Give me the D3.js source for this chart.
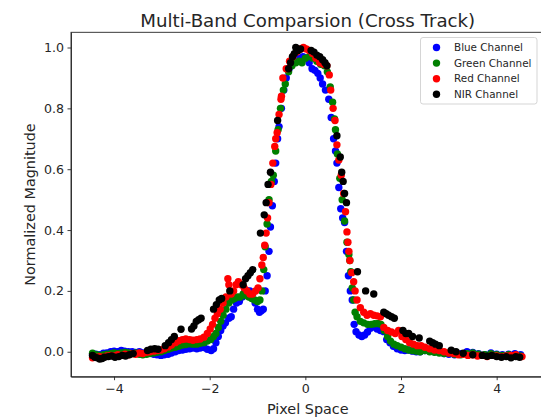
<!DOCTYPE html>
<html>
<head>
<meta charset="utf-8">
<script src="https://cdn.jsdelivr.net/npm/d3@7"></script>
<style>
  body { margin: 0; background: #fff; }
  svg { display: block; font-family: "DejaVu Sans", sans-serif; }
</style>
</head>
<body>
<svg width="541" height="418"></svg>
<script>
// data: [pixel space, normalized magnitude]
var blueChannel = [
  [-4.45,-0.01],[-4.38,-0.008],[-4.3,-0.01],[-4.22,-0.005],[-4.15,-0.004],[-4.07,0.0],[-4.0,0.002],[-3.92,0.0],
  [-3.85,0.004],[-3.78,0.002],[-3.7,0.0],[-3.62,0.0],[-3.55,-0.002],[-3.47,0.0],[-3.4,-0.004],[-3.32,-0.006],
  [-3.25,-0.004],[-3.17,-0.008],[-3.1,-0.01],[-3.02,-0.012],[-2.95,-0.01],[-2.87,-0.008],[-2.8,-0.004],[-2.72,0.0],
  [-2.65,0.004],[-2.57,0.006],[-2.5,0.008],[-2.42,0.01],[-2.35,0.012],[-2.27,0.01],[-2.2,0.012],[-2.12,0.014],
  [-2.05,0.008],[-1.97,0.004],[-1.92,0.01],[-1.87,0.03],[-1.82,0.05],[-1.77,0.07],[-1.72,0.085],[-1.67,0.095],
  [-1.6,0.11],[-1.55,0.115],[-1.5,0.14],[-1.44,0.16],[-1.38,0.165],[-1.32,0.18],[-1.27,0.195],[-1.22,0.2],
  [-1.16,0.2],[-1.1,0.19],[-1.05,0.16],[-1.0,0.14],[-0.96,0.13],[-0.92,0.135],[-0.88,0.14],[-0.84,0.2],
  [-0.8,0.25],[-0.76,0.33],[-0.73,0.41],[-0.69,0.48],[-0.65,0.56],[-0.62,0.62],[-0.58,0.7],[-0.55,0.74],
  [-0.5,0.8],[-0.45,0.86],[-0.4,0.9],[-0.34,0.93],[-0.27,0.95],[-0.2,0.955],[-0.12,0.965],[-0.05,0.97],
  [0.02,0.965],[0.08,0.95],[0.14,0.93],[0.2,0.925],[0.26,0.915],[0.31,0.9],[0.36,0.88],[0.42,0.86],
  [0.49,0.83],[0.54,0.77],[0.59,0.7],[0.63,0.66],[0.66,0.62],[0.7,0.54],[0.74,0.47],[0.78,0.44],
  [0.82,0.425],[0.86,0.33],[0.9,0.25],[0.94,0.2],[0.98,0.17],[1.02,0.09],[1.06,0.066],[1.12,0.055],
  [1.18,0.05],[1.24,0.055],[1.3,0.065],[1.36,0.077],[1.43,0.082],[1.5,0.075],[1.57,0.07],[1.64,0.066],
  [1.7,0.04],[1.77,0.03],[1.84,0.018],[1.92,0.01],[2.0,0.006],[2.08,0.004],[2.16,0.006],[2.24,0.002],
  [2.32,0.0],[2.4,0.0],[2.5,0.004],[2.6,0.002],[2.7,0.0],[2.8,-0.002],[2.9,-0.006],[3.0,-0.008],
  [3.12,-0.01],[3.25,-0.006],[3.38,0.0],[3.5,-0.002],[3.62,-0.006],[3.75,-0.01],[3.88,-0.004],[4.0,-0.008],
  [4.12,-0.01],[4.25,-0.008],[4.38,-0.006],[4.5,-0.01]
];

var greenChannel = [
  [-4.45,-0.005],[-4.37,-0.01],[-4.3,-0.012],[-4.22,-0.01],[-4.15,-0.008],[-4.07,-0.006],[-4.0,-0.004],[-3.92,-0.006],
  [-3.85,-0.004],[-3.77,-0.002],[-3.7,-0.004],[-3.62,-0.006],[-3.55,-0.004],[-3.47,-0.008],[-3.4,-0.01],[-3.32,-0.008],
  [-3.25,-0.006],[-3.17,-0.004],[-3.1,-0.002],[-3.02,0.0],[-2.95,0.004],[-2.87,0.008],[-2.8,0.012],[-2.72,0.015],
  [-2.65,0.018],[-2.57,0.022],[-2.5,0.024],[-2.42,0.026],[-2.35,0.025],[-2.27,0.025],[-2.2,0.028],[-2.12,0.03],
  [-2.05,0.035],[-1.98,0.04],[-1.92,0.05],[-1.87,0.06],[-1.82,0.08],[-1.77,0.1],[-1.72,0.12],[-1.66,0.14],
  [-1.6,0.16],[-1.54,0.17],[-1.48,0.175],[-1.42,0.18],[-1.36,0.18],[-1.3,0.19],[-1.24,0.185],[-1.18,0.18],
  [-1.12,0.175],[-1.06,0.17],[-1.0,0.165],[-0.95,0.17],[-0.91,0.2],[-0.87,0.27],[-0.84,0.345],[-0.8,0.42],
  [-0.76,0.5],[-0.71,0.56],[-0.67,0.58],[-0.62,0.66],[-0.57,0.73],[-0.52,0.8],[-0.46,0.86],[-0.42,0.88],
  [-0.35,0.92],[-0.28,0.94],[-0.2,0.95],[-0.13,0.955],[-0.07,0.95],[0.0,0.965],[0.08,0.97],[0.16,0.965],
  [0.24,0.955],[0.32,0.945],[0.4,0.94],[0.46,0.92],[0.52,0.87],[0.57,0.82],[0.61,0.765],[0.63,0.73],
  [0.67,0.65],[0.72,0.57],[0.77,0.5],[0.82,0.43],[0.87,0.36],[0.91,0.32],[0.93,0.3],[0.95,0.263],
  [0.98,0.21],[1.01,0.17],[1.04,0.13],[1.08,0.115],[1.15,0.1],[1.22,0.095],[1.3,0.09],[1.38,0.09],
  [1.45,0.092],[1.52,0.093],[1.58,0.09],[1.65,0.07],[1.72,0.05],[1.78,0.035],[1.85,0.025],[1.92,0.02],
  [2.0,0.015],[2.08,0.01],[2.16,0.006],[2.24,0.004],[2.32,0.002],[2.4,0.0],[2.5,0.004],[2.6,0.0],
  [2.7,-0.002],[2.8,-0.004],[2.9,-0.006],[3.0,-0.004],[3.12,-0.008],[3.25,-0.01],[3.38,-0.006],[3.5,-0.004],
  [3.62,-0.008],[3.75,-0.01],[3.88,-0.006],[4.0,-0.01],[4.12,-0.012],[4.25,-0.01],[4.38,-0.012],[4.5,-0.014]
];

var redChannel = [
  [-4.45,-0.02],[-4.38,-0.018],[-4.3,-0.016],[-4.22,-0.018],[-4.15,-0.014],[-4.07,-0.012],[-4.0,-0.014],[-3.92,-0.01],
  [-3.85,-0.012],[-3.77,-0.008],[-3.7,-0.01],[-3.62,-0.006],[-3.55,-0.008],[-3.47,-0.004],[-3.4,-0.006],[-3.32,-0.002],
  [-3.25,0.0],[-3.17,0.002],[-3.1,0.004],[-3.02,0.006],[-2.95,0.01],[-2.87,0.016],[-2.8,0.022],[-2.72,0.03],
  [-2.65,0.036],[-2.57,0.04],[-2.5,0.042],[-2.42,0.04],[-2.35,0.038],[-2.27,0.04],[-2.2,0.042],[-2.12,0.048],
  [-2.05,0.06],[-1.99,0.075],[-1.94,0.09],[-1.89,0.11],[-1.84,0.125],[-1.78,0.14],[-1.72,0.16],[-1.66,0.18],
  [-1.62,0.24],[-1.6,0.22],[-1.55,0.19],[-1.5,0.2],[-1.45,0.22],[-1.4,0.23],[-1.34,0.22],[-1.28,0.21],
  [-1.22,0.2],[-1.16,0.19],[-1.1,0.19],[-1.04,0.2],[-0.99,0.21],[-0.95,0.24],[-0.91,0.285],[-0.88,0.31],
  [-0.85,0.35],[-0.82,0.39],[-0.79,0.44],[-0.76,0.49],[-0.72,0.55],[-0.68,0.62],[-0.64,0.675],[-0.62,0.7],
  [-0.59,0.72],[-0.55,0.78],[-0.51,0.83],[-0.5,0.84],[-0.47,0.9],[-0.4,0.93],[-0.33,0.955],[-0.26,0.97],
  [-0.18,0.985],[-0.1,0.995],[-0.04,1.0],[0.02,0.995],[0.08,0.99],[0.15,0.98],[0.22,0.965],[0.3,0.95],
  [0.38,0.945],[0.45,0.94],[0.5,0.91],[0.53,0.86],[0.58,0.8],[0.62,0.76],[0.66,0.68],[0.7,0.63],
  [0.75,0.58],[0.8,0.52],[0.84,0.46],[0.87,0.394],[0.89,0.36],[0.91,0.33],[0.93,0.3],[0.97,0.26],
  [1.01,0.23],[1.04,0.2],[1.08,0.17],[1.15,0.145],[1.22,0.13],[1.29,0.12],[1.36,0.125],[1.43,0.12],
  [1.5,0.118],[1.57,0.115],[1.64,0.08],[1.72,0.07],[1.8,0.065],[1.88,0.06],[1.95,0.07],[2.02,0.05],
  [2.1,0.04],[2.18,0.03],[2.26,0.025],[2.34,0.02],[2.42,0.02],[2.5,0.015],[2.6,0.01],[2.7,0.006],
  [2.8,0.004],[2.9,0.0],[3.0,-0.004],[3.1,-0.006],[3.2,-0.01],[3.3,-0.008],[3.4,-0.012],[3.5,-0.01],
  [3.6,-0.014],[3.7,-0.012],[3.8,-0.016],[3.9,-0.012],[4.0,-0.014],[4.1,-0.016],[4.2,-0.014],[4.3,-0.012],
  [4.4,-0.01],[4.53,-0.016]
];

var nirChannel = [
  [-4.45,-0.012],[-4.4,-0.018],[-4.35,-0.02],[-4.3,-0.024],[-4.25,-0.022],[-4.2,-0.018],[-4.12,-0.016],[-4.05,-0.014],
  [-3.98,-0.018],[-3.9,-0.016],[-3.83,-0.012],[-3.76,-0.014],[-3.68,-0.01],[-3.6,-0.006],[-3.3,0.004],[-3.23,0.008],
  [-3.15,0.01],[-3.08,0.008],[-2.93,0.02],[-2.86,0.03],[-2.8,0.04],[-2.74,0.05],[-2.6,0.074],[-2.38,0.075],
  [-2.33,0.085],[-2.28,0.1],[-2.23,0.105],[-2.18,0.11],[-1.92,0.14],[-1.86,0.155],[-1.8,0.17],[-1.75,0.175],
  [-1.58,0.2],[-1.3,0.22],[-1.25,0.24],[-1.2,0.25],[-1.15,0.26],[-1.1,0.27],[-0.94,0.39],[-0.86,0.45],
  [-0.82,0.49],[-0.78,0.55],[-0.73,0.59],[-0.58,0.76],[-0.35,0.93],[-0.31,0.95],[-0.27,0.97],[-0.23,0.98],
  [-0.2,1.0],[-0.15,0.99],[-0.1,0.995],[0.12,0.99],[0.18,0.985],[0.24,0.975],[0.3,0.97],[0.36,0.96],
  [0.41,0.95],[0.45,0.94],[0.66,0.71],[0.73,0.64],[0.76,0.59],[0.79,0.56],[0.82,0.52],[0.86,0.49],
  [1.09,0.263],[1.26,0.2],[1.43,0.19],[1.64,0.13],[1.69,0.125],[1.74,0.12],[1.8,0.115],[1.86,0.11],
  [2.04,0.07],[2.1,0.06],[2.16,0.06],[2.24,0.05],[2.38,0.045],[2.6,0.035],[2.66,0.03],[2.72,0.025],
  [2.8,0.02],[3.05,0.005],[3.15,0.0],[3.3,-0.005],[3.5,-0.01],[3.7,-0.012],[3.8,-0.015],[3.9,-0.012],
  [4.0,-0.016],[4.1,-0.018],[4.2,-0.016],[4.3,-0.02],[4.4,-0.016],[4.48,-0.018]
];

var seriesNames = ["Blue Channel", "Green Channel", "Red Channel", "NIR Channel"];
var seriesColors = ["blue", "green", "red", "black"];
var xTicks = [-4, -2, 0, 2, 4];
var yTicks = [0.0, 0.2, 0.4, 0.6, 0.8, 1.0];

var series = [blueChannel, greenChannel, redChannel, nirChannel];

var svg = d3.select("svg");
// plot box in pixels (right edge falls just outside the picture)
var box = { left: 71, right: 544.5, top: 32.3, bottom: 376.7 };
var textColor = "#262626";

var x = d3.scaleLinear().domain([-4.9, 5.0]).range([box.left, box.right]);
var y = d3.scaleLinear().domain([-0.082, 1.05]).range([box.bottom, box.top]);

// points, drawn in series order so NIR ends up on top
series.forEach(function (data, i) {
  svg.append("g")
    .selectAll("circle")
    .data(data)
    .enter().append("circle")
    .attr("cx", function (d) { return x(d[0]); })
    .attr("cy", function (d) { return y(d[1]); })
    .attr("r", 3.7)
    .attr("fill", seriesColors[i]);
});

// axes
var xAxis = svg.append("g")
  .attr("transform", "translate(0," + box.bottom + ")")
  .call(d3.axisBottom(x).tickValues(xTicks).tickSize(3.5).tickPadding(3.5).tickSizeOuter(0)
    .tickFormat(function (d) { return d < 0 ? "\u2212" + Math.abs(d) : d; }));

var yAxis = svg.append("g")
  .attr("transform", "translate(" + box.left + ",0)")
  .call(d3.axisLeft(y).tickValues(yTicks).tickSize(3.5).tickPadding(3.5).tickSizeOuter(0)
    .tickFormat(d3.format(".1f")));

[xAxis, yAxis].forEach(function (a) {
  a.attr("font-family", "DejaVu Sans, sans-serif").attr("font-size", 12.6);
  a.selectAll("text").attr("fill", textColor);
  a.selectAll("line").attr("stroke", textColor).attr("stroke-width", 0.9);
  a.select(".domain").attr("stroke", textColor).attr("stroke-width", 0.9);
});

// top and right spines
svg.append("rect")
  .attr("x", box.left).attr("y", box.top)
  .attr("width", box.right - box.left).attr("height", box.bottom - box.top)
  .attr("fill", "none").attr("stroke", textColor).attr("stroke-width", 0.9);

// title and axis labels
svg.append("text")
  .attr("x", (box.left + box.right) / 2).attr("y", 27)
  .attr("text-anchor", "middle").attr("font-size", 18.2).attr("fill", textColor)
  .text("Multi-Band Comparsion (Cross Track)");

svg.append("text")
  .attr("x", (box.left + box.right) / 2).attr("y", 413.5)
  .attr("text-anchor", "middle").attr("font-size", 14.4).attr("fill", textColor)
  .text("Pixel Space");

svg.append("text")
  .attr("transform", "translate(35," + (box.top + box.bottom) / 2 + ") rotate(-90)")
  .attr("text-anchor", "middle").attr("font-size", 14.4).attr("fill", textColor)
  .text("Normalized Magnitude");

// legend
var legend = svg.append("g").attr("transform", "translate(420.5,37.5)");
legend.append("rect")
  .attr("width", 116.5).attr("height", 66.5).attr("rx", 2.5)
  .attr("fill", "#fff").attr("fill-opacity", 0.8)
  .attr("stroke", "#d0d0d0").attr("stroke-width", 0.9);

var rows = legend.selectAll(".row")
  .data(seriesNames)
  .enter().append("g")
  .attr("class", "row")
  .attr("transform", function (d, i) { return "translate(0," + (10 + i * 15.6) + ")"; });

rows.append("circle")
  .attr("cx", 16).attr("r", 3.7)
  .attr("fill", function (d, i) { return seriesColors[i]; });

rows.append("text")
  .attr("x", 33.5).attr("dy", "0.36em")
  .attr("font-size", 10.4).attr("fill", textColor)
  .text(function (d) { return d; });
</script>
</body>
</html>
